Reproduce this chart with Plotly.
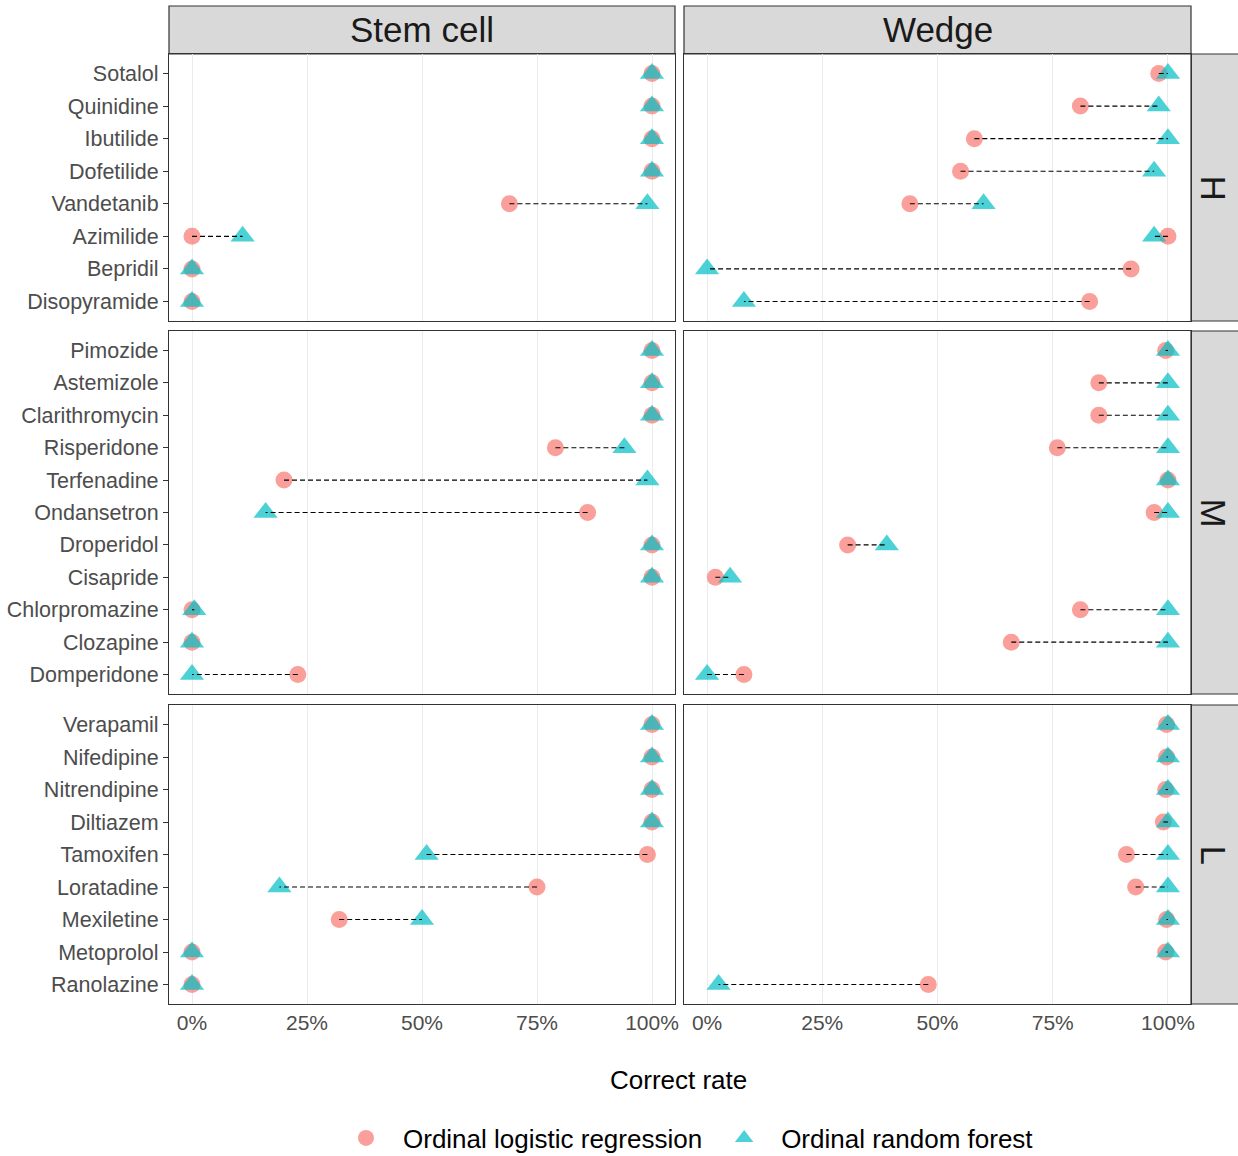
import plotly.graph_objects as go

# ---------------- data ----------------
methods = ["Stem cell", "Wedge"]
risk_levels = ["H", "M", "L"]

drugs_H = ["Sotalol", "Quinidine", "Ibutilide", "Dofetilide", "Vandetanib",
           "Azimilide", "Bepridil", "Disopyramide"]
drugs_M = ["Pimozide", "Astemizole", "Clarithromycin", "Risperidone", "Terfenadine",
           "Ondansetron", "Droperidol", "Cisapride", "Chlorpromazine", "Clozapine",
           "Domperidone"]
drugs_L = ["Verapamil", "Nifedipine", "Nitrendipine", "Diltiazem", "Tamoxifen",
           "Loratadine", "Mexiletine", "Metoprolol", "Ranolazine"]

# Ordinal logistic regression (olr) / Ordinal random forest (orf) correct rates
olr_stem_H = [1.00, 1.00, 1.00, 1.00, 0.69, 0.00, 0.00, 0.00]
orf_stem_H = [1.00, 1.00, 1.00, 1.00, 0.99, 0.11, 0.00, 0.00]
olr_wedge_H = [0.98, 0.81, 0.58, 0.55, 0.44, 1.00, 0.92, 0.83]
orf_wedge_H = [1.00, 0.98, 1.00, 0.97, 0.60, 0.97, 0.00, 0.08]

olr_stem_M = [1.00, 1.00, 1.00, 0.79, 0.20, 0.86, 1.00, 1.00, 0.00, 0.00, 0.23]
orf_stem_M = [1.00, 1.00, 1.00, 0.94, 0.99, 0.16, 1.00, 1.00, 0.005, 0.00, 0.00]
olr_wedge_M = [0.995, 0.85, 0.85, 0.76, 1.00, 0.97, 0.305, 0.018, 0.81, 0.66, 0.08]
orf_wedge_M = [1.00, 1.00, 1.00, 1.00, 1.00, 1.00, 0.39, 0.05, 1.00, 1.00, 0.00]

olr_stem_L = [1.00, 1.00, 1.00, 1.00, 0.99, 0.75, 0.32, 0.00, 0.00]
orf_stem_L = [1.00, 1.00, 1.00, 1.00, 0.51, 0.19, 0.50, 0.00, 0.00]
olr_wedge_L = [0.997, 0.997, 0.995, 0.99, 0.91, 0.93, 0.997, 0.995, 0.48]
orf_wedge_L = [1.00, 1.00, 1.00, 1.00, 1.00, 1.00, 1.00, 1.00, 0.025]

x_tickvals = [0, 0.25, 0.5, 0.75, 1.0]
x_ticktext = ["0%", "25%", "50%", "75%", "100%"]
legend_names = ["Ordinal logistic regression", "Ordinal random forest"]
x_title = "Correct rate"

panels = {
    ("H", "Stem cell"): (drugs_H, olr_stem_H, orf_stem_H),
    ("H", "Wedge"): (drugs_H, olr_wedge_H, orf_wedge_H),
    ("M", "Stem cell"): (drugs_M, olr_stem_M, orf_stem_M),
    ("M", "Wedge"): (drugs_M, olr_wedge_M, orf_wedge_M),
    ("L", "Stem cell"): (drugs_L, olr_stem_L, orf_stem_L),
    ("L", "Wedge"): (drugs_L, olr_wedge_L, orf_wedge_L),
}

# ---------------- layout geometry (pixels) ----------------
W, H = 1238, 1156
PL, PR, PT, PB = 169, 1191, 54, 1004   # plot area
col_px = [(169, 675), (684, 1191)]
row_px = [(54, 321), (331, 694), (705, 1004)]


def fx(px):
    return (px - PL) / (PR - PL)


def fy(py):
    return (PB - py) / (PB - PT)


C_OLR = "#F8766D"
C_ORF = "#00BFC4"
FONT = "Liberation Sans, Arial, sans-serif"

fig = go.Figure()
layout = {}
shapes = []
annotations = []

for r, risk in enumerate(risk_levels):
    for c, meth in enumerate(methods):
        k = r * 2 + c + 1
        xa = "x" if k == 1 else f"x{k}"
        ya = "y" if k == 1 else f"y{k}"
        drugs, olr, orf = panels[(risk, meth)]
        n = len(drugs)

        fig.add_trace(go.Scatter(
            x=olr, y=drugs, mode="markers", xaxis=xa, yaxis=ya,
            name=legend_names[0], legendgroup="olr", showlegend=(k == 1),
            marker=dict(symbol="circle", size=17, color=C_OLR, opacity=0.7,
                        line=dict(width=0)),
        ))
        fig.add_trace(go.Scatter(
            x=orf, y=drugs, mode="markers", xaxis=xa, yaxis=ya,
            name=legend_names[1], legendgroup="orf", showlegend=(k == 1),
            marker=dict(symbol="triangle-up", size=21, color=C_ORF, opacity=0.7,
                        line=dict(width=0)),
        ))
        sx, sy = [], []
        for d, a, b in zip(drugs, olr, orf):
            sx += [a, b, None]
            sy += [d, d, None]
        fig.add_trace(go.Scatter(
            x=sx, y=sy, mode="lines", xaxis=xa, yaxis=ya, showlegend=False,
            hoverinfo="skip",
            line=dict(color="black", width=1.1, dash="5px,3px"),
        ))

        x0, x1 = col_px[c]
        y0, y1 = row_px[r]
        xkey = "xaxis" if k == 1 else f"xaxis{k}"
        ykey = "yaxis" if k == 1 else f"yaxis{k}"
        bottom = (r == len(risk_levels) - 1)
        layout[xkey] = dict(
            domain=[fx(x0), fx(x1)], anchor=ya, range=[-0.05, 1.05],
            tickvals=x_tickvals, ticktext=x_ticktext, showticklabels=bottom,
            ticks="", showgrid=True, gridcolor="#EBEBEB", gridwidth=1,
            zeroline=False, showline=True, mirror=True, linecolor="#333333",
            linewidth=1.2,
            tickfont=dict(family=FONT, size=21, color="#4D4D4D"),
        )
        layout[ykey] = dict(
            domain=[fy(y1), fy(y0)], anchor=xa, type="category",
            categoryorder="array", categoryarray=drugs,
            range=[n - 1 + 0.6, -0.6],
            showticklabels=(c == 0), ticks="outside" if c == 0 else "",
            ticklen=5, tickcolor="#333333", tickwidth=1,
            showgrid=False, zeroline=False, showline=True, mirror=True,
            linecolor="#333333", linewidth=1.2,
            tickfont=dict(family=FONT, size=21.5, color="#4D4D4D"),
        )

# top strips
for c, meth in enumerate(methods):
    x0, x1 = col_px[c]
    shapes.append(dict(type="rect", xref="paper", yref="paper",
                       x0=fx(x0), x1=fx(x1), y0=fy(PT), y1=fy(6),
                       fillcolor="#D9D9D9", line=dict(color="#333333", width=1.2),
                       layer="below"))
    annotations.append(dict(text=meth, xref="paper", yref="paper",
                            x=fx((x0 + x1) / 2), y=fy(30), showarrow=False,
                            xanchor="center", yanchor="middle",
                            font=dict(family=FONT, size=35, color="#1A1A1A")))
# right strips
for r, risk in enumerate(risk_levels):
    y0, y1 = row_px[r]
    shapes.append(dict(type="rect", xref="paper", yref="paper",
                       x0=fx(PR), x1=fx(1240), y0=fy(y1), y1=fy(y0),
                       fillcolor="#D9D9D9", line=dict(color="#333333", width=1.2),
                       layer="below"))
    annotations.append(dict(text=risk, xref="paper", yref="paper",
                            x=fx(1213), y=fy((y0 + y1) / 2), showarrow=False,
                            textangle=90, xanchor="center", yanchor="middle",
                            font=dict(family=FONT, size=35, color="#1A1A1A")))

annotations.append(dict(text=x_title, xref="paper", yref="paper",
                        x=fx(678), y=fy(1080), showarrow=False,
                        xanchor="center", yanchor="middle",
                        font=dict(family=FONT, size=26, color="black")))

fig.update_layout(
    width=W, height=H,
    margin=dict(l=PL, r=W - PR, t=PT, b=H - PB, autoexpand=False),
    paper_bgcolor="white", plot_bgcolor="white",
    shapes=shapes, annotations=annotations,
    showlegend=True,
    legend=dict(orientation="h", x=fx(684), xanchor="center",
                y=fy(1138), yanchor="middle",
                font=dict(family=FONT, size=26, color="black"),
                itemwidth=64, bgcolor="rgba(0,0,0,0)", tracegroupgap=0),
    **layout,
)

fig.write_html("out.html", config={"displayModeBar": False},
               post_script="document.body.style.margin='0';document.body.style.padding='0';")
